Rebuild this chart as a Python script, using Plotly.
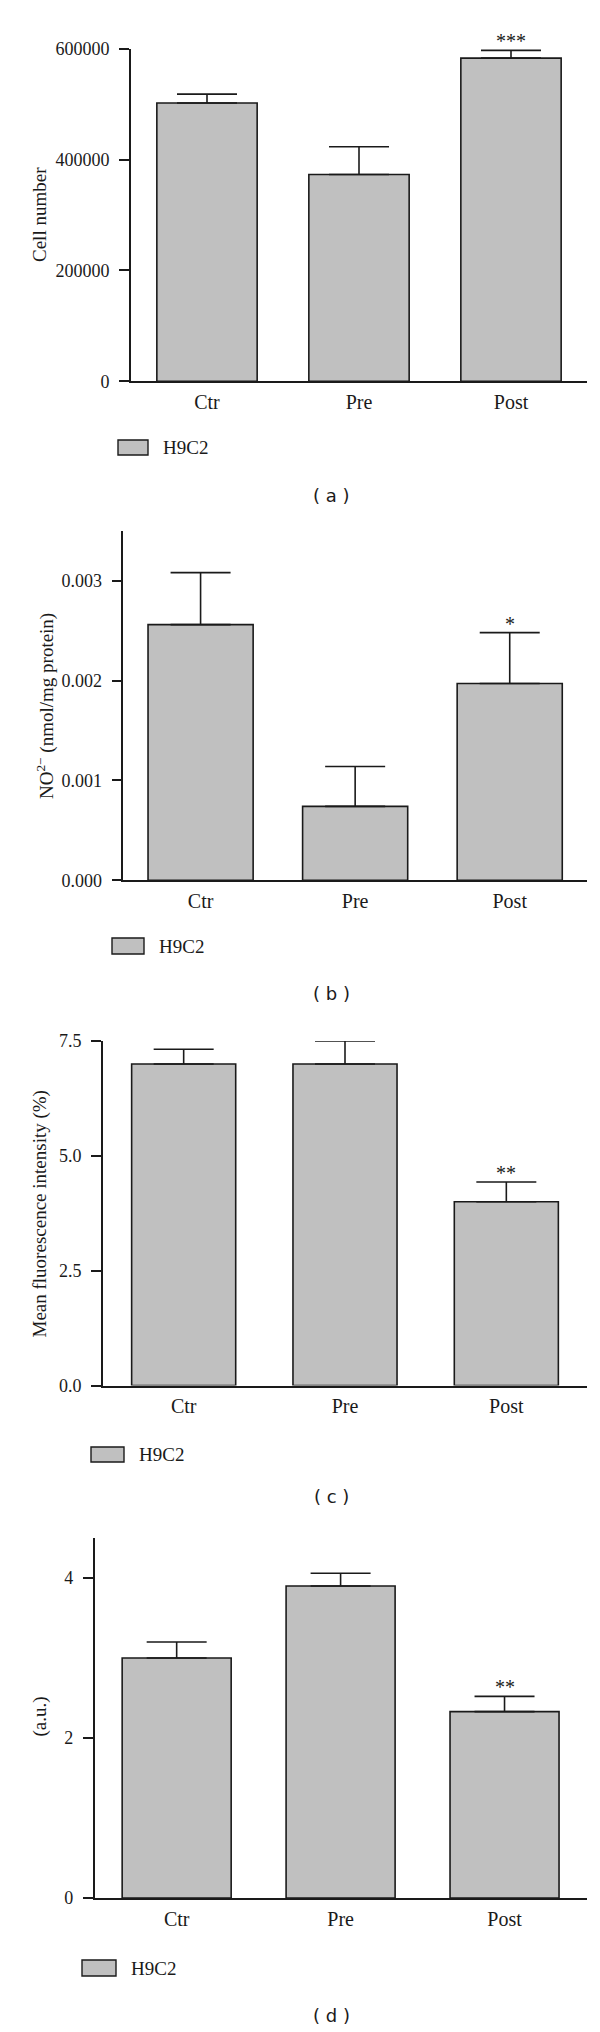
import plotly.graph_objects as go

# ---------------- data ----------------
categories = ["Ctr", "Pre", "Post"]

cell_number = [502000, 373000, 583000]
cell_number_err = [16000, 50000, 14000]
cell_stars = ["", "", "***"]

no2 = [0.00256, 0.00074, 0.00197]
no2_err = [0.00052, 0.00040, 0.00051]
no2_stars = ["", "", "*"]

mfi = [7.0, 7.0, 4.0]
mfi_err = [0.32, 0.50, 0.43]
mfi_stars = ["", "", "**"]

au = [3.0, 3.9, 2.33]
au_err = [0.20, 0.16, 0.19]
au_stars = ["", "", "**"]

a_tickvals = [0, 200000, 400000, 600000]
a_ticktext = ["0", "200000", "400000", "600000"]
b_tickvals = [0, 0.001, 0.002, 0.003]
b_ticktext = ["0.000", "0.001", "0.002", "0.003"]
c_tickvals = [0, 2.5, 5.0, 7.5]
c_ticktext = ["0.0", "2.5", "5.0", "7.5"]
d_tickvals = [0, 2, 4]
d_ticktext = ["0", "2", "4"]

series_name = "H9C2"
panel_letters = ["( a )", "( b )", "( c )", "( d )"]
y_titles = ["Cell number",
            "NO<sup>2−</sup> (nmol/mg protein)",
            "Mean fluorescence intensity (%)",
            "(a.u.)"]

# ---------------- layout constants (pixels) ----------------
W, H = 600, 2032
SERIF = "Liberation Serif, Times New Roman, serif"
SANS = "DejaVu Sans, Liberation Sans, sans-serif"
INK = "#1a1a1a"
BAR_FILL = "#c0c0c0"

panels = [
    dict(values=cell_number, errs=cell_number_err, stars=cell_stars,
         tv=a_tickvals, tt=a_ticktext, yr=[0, 600000],
         x0=123, x1=579, ytop=40.7, ybot=373.3, bw=0.66,
         title_x=31, title_y=207,
         sw=(110, 140, 432, 447), lt=(153, 439.5), lab_y=487),
    dict(values=no2, errs=no2_err, stars=no2_stars,
         tv=b_tickvals, tt=b_ticktext, yr=[0, 0.0035],
         x0=115.3, x1=579, ytop=522.7, ybot=872.3, bw=0.68,
         title_x=37, title_y=698,
         sw=(104, 136, 930, 946), lt=(149, 938), lab_y=985),
    dict(values=mfi, errs=mfi_err, stars=mfi_stars,
         tv=c_tickvals, tt=c_ticktext, yr=[0, 7.5],
         x0=95, x1=579, ytop=1033, ybot=1377.5, bw=0.645,
         title_x=31.5, title_y=1206,
         sw=(83, 116, 1439, 1454), lt=(129, 1446.5), lab_y=1488),
    dict(values=au, errs=au_err, stars=au_stars,
         tv=d_tickvals, tt=d_ticktext, yr=[0, 4.5],
         x0=86.7, x1=578.5, ytop=1530, ybot=1890, bw=0.665,
         title_x=31.5, title_y=1709,
         sw=(74, 108, 1952, 1968), lt=(121, 1960), lab_y=2007),
]


def px(x):
    return x / W


def py(y):
    return 1 - y / H


fig = go.Figure()
annotations = []
shapes = []

for i, p in enumerate(panels):
    n = "" if i == 0 else str(i + 1)
    xa, ya = "x" + n, "y" + n
    fig.add_trace(go.Bar(
        x=categories, y=p["values"], name=series_name, showlegend=False,
        width=p["bw"], xaxis=xa, yaxis=ya, cliponaxis=False,
        marker=dict(color=BAR_FILL, line=dict(color=INK, width=1.6)),
        error_y=dict(type="data", array=p["errs"],
                     arrayminus=[0] * len(p["errs"]), symmetric=False,
                     color=INK, thickness=1.6, width=30),
    ))
    fig.update_layout(**{
        "xaxis" + n: dict(
            domain=[px(p["x0"]), px(p["x1"])], anchor=ya,
            range=[-0.5, 2.5], showline=True, linecolor=INK, linewidth=1.6,
            ticks="", showgrid=False, zeroline=False, fixedrange=True,
            automargin=False,
            tickfont=dict(family=SERIF, size=20, color=INK),
            ticklabelstandoff=2,
        ),
        "yaxis" + n: dict(
            domain=[py(p["ybot"]), py(p["ytop"])], anchor=xa,
            range=p["yr"], autorange=False,
            showline=True, linecolor=INK, linewidth=1.6,
            ticks="outside", ticklen=10, tickwidth=1.6, tickcolor=INK,
            tickvals=p["tv"], ticktext=p["tt"],
            showgrid=False, zeroline=False, fixedrange=True,
            automargin=False,
            tickfont=dict(family=SERIF, size=18, color=INK),
            ticklabelstandoff=6,
        ),
    })
    # significance stars
    for c, v, e, s in zip(categories, p["values"], p["errs"], p["stars"]):
        if s:
            annotations.append(dict(
                x=c, y=v + e, xref=xa, yref=ya, text=s, showarrow=False,
                yanchor="bottom", yshift=-4,
                font=dict(family=SERIF, size=20, color=INK)))
    # y-axis title
    annotations.append(dict(
        x=px(p["title_x"]), y=py(p["title_y"]), xref="paper", yref="paper",
        text=y_titles[i], textangle=-90, showarrow=False,
        xanchor="center", yanchor="middle",
        font=dict(family=SERIF, size=19, color=INK)))
    # legend swatch + label
    sx0, sx1, sy0, sy1 = p["sw"]
    shapes.append(dict(type="rect", xref="paper", yref="paper",
                       x0=px(sx0), x1=px(sx1), y0=py(sy1), y1=py(sy0),
                       fillcolor=BAR_FILL, line=dict(color=INK, width=1.4)))
    annotations.append(dict(
        x=px(p["lt"][0]), y=py(p["lt"][1]), xref="paper", yref="paper",
        text=series_name, showarrow=False, xanchor="left", yanchor="middle",
        font=dict(family=SERIF, size=19, color=INK)))
    # panel letter
    annotations.append(dict(
        x=px(323), y=py(p["lab_y"]), xref="paper", yref="paper",
        text=panel_letters[i], showarrow=False,
        xanchor="center", yanchor="middle",
        font=dict(family=SANS, size=18, color=INK)))

fig.update_layout(
    width=W, height=H, margin=dict(l=0, r=0, t=0, b=0, autoexpand=False),
    paper_bgcolor="white", plot_bgcolor="white",
    showlegend=False, bargap=0.34,
    annotations=annotations, shapes=shapes,
)

fig.write_html("out.html")
